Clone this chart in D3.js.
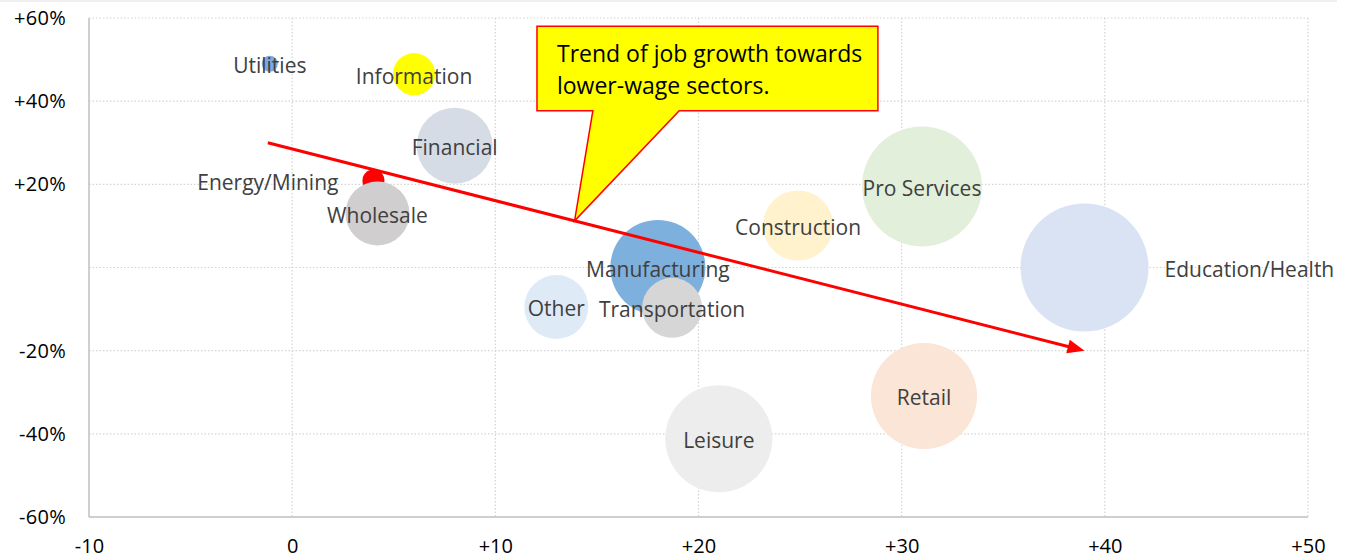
<!DOCTYPE html>
<html>
<head>
<meta charset="utf-8">
<script src="https://cdn.jsdelivr.net/npm/d3@7"></script>
<style>
  body { margin: 0; background: #fff; }
  svg { display: block; font-family: "Open Sans", "Noto Sans", sans-serif; }
</style>
</head>
<body>
<div id="bubbleChart"></div>
<script>
// sectors, in drawing order
const sectors = ["Utilities", "Information", "Financial", "Energy/Mining", "Wholesale",
  "Manufacturing", "Transportation", "Other", "Construction", "Pro Services",
  "Education/Health", "Retail", "Leisure"];
// x: horizontal axis value
const xValues = [-1.1, 6.0, 8.0, 4.0, 4.2, 18.0, 18.7, 13.0, 24.9, 31.0, 39.0, 31.1, 21.0];
// y: vertical axis value (fraction)
const yValues = [0.49, 0.465, 0.293, 0.209, 0.13, 0.0, -0.097, -0.095, 0.101, 0.195, 0.0, -0.309, -0.412];
// bubble size values
const sizes = [0.36, 2.5, 8.1, 0.68, 5.75, 12.7, 5.05, 5.75, 6.9, 20.2, 23.0, 15.8, 16.1];

const xTicks = [-10, 0, 10, 20, 30, 40, 50];
const yTicks = [-0.6, -0.4, -0.2, 0, 0.2, 0.4, 0.6];

// trend arrow endpoints [x, y]
const trendStart = [-1.2, 0.30];
const trendEnd = [39.0, -0.20];
const calloutText = ["Trend of job growth towards", "lower-wage sectors."];

class BubbleChart {
  constructor(_config) {
    this.config = {
      containerWidth: _config.containerWidth || 1350,
      containerHeight: _config.containerHeight || 560,
      margin: _config.margin || {top: 18, right: 42, bottom: 43, left: 89}
    };
    this.data = sectors.map((s, i) => ({name: s, x: xValues[i], y: yValues[i], size: sizes[i]}));
    this.initVis();
  }

  initVis() {
    let vis = this;
    vis.width = vis.config.containerWidth - vis.config.margin.left - vis.config.margin.right;
    vis.height = vis.config.containerHeight - vis.config.margin.top - vis.config.margin.bottom;

    vis.svgRoot = d3.select("#bubbleChart").append("svg")
      .attr("width", vis.config.containerWidth)
      .attr("height", vis.config.containerHeight);

    // faint strip across the top edge
    vis.svgRoot.append("rect")
      .attr("x", 0).attr("y", 0)
      .attr("width", 1337).attr("height", 2)
      .attr("fill", "#efefef");

    vis.svg = vis.svgRoot.append("g")
      .attr("transform", `translate(${vis.config.margin.left},${vis.config.margin.top})`);

    vis.xScale = d3.scaleLinear().domain([-10, 50]).range([0, vis.width]);
    vis.yScale = d3.scaleLinear().domain([-0.6, 0.6]).range([vis.height, 0]);
    vis.zScale = d3.scaleSqrt().domain([0, d3.max(sizes)]).range([0, 64]);

    vis.myColor = d3.scaleOrdinal().domain(sectors).range([
      "#7eaadb", "#ffff00", "#d6dce5", "#ff0000", "#d0cece",
      "#7eb0de", "#d6d6d6", "#deebf7", "#fff2cc", "#e2efda",
      "#dae3f3", "#fbe5d6", "#ededed"]);

    vis.updateVis();
  }

  updateVis() {
    let vis = this;
    vis.xValue = d => d.x;
    vis.yValue = d => d.y;
    vis.zValue = d => d.size;
    vis.renderVis();
  }

  renderVis() {
    let vis = this;

    // gridlines
    const grid = vis.svg.append("g").attr("class", "grid");
    grid.selectAll(".vgrid").data(xTicks.slice(1)).join("line")
      .attr("x1", d => vis.xScale(d)).attr("x2", d => vis.xScale(d))
      .attr("y1", 0).attr("y2", vis.height)
      .attr("stroke", "#d4d4d4").attr("stroke-width", 1.2)
      .attr("stroke-dasharray", "1.5,2");
    grid.selectAll(".hgrid").data(yTicks.slice(1)).join("line")
      .attr("x1", 0).attr("x2", vis.width)
      .attr("y1", d => vis.yScale(d)).attr("y2", d => vis.yScale(d))
      .attr("stroke", "#d4d4d4").attr("stroke-width", 1.2)
      .attr("stroke-dasharray", "1.5,2");

    // axes
    vis.xAxis = d3.axisBottom(vis.xScale).tickValues(xTicks)
      .tickSize(0).tickPadding(24)
      .tickFormat(d => (d > 0 ? "+" : "") + d);
    vis.yAxis = d3.axisLeft(vis.yScale).tickValues(yTicks)
      .tickSize(0).tickPadding(23)
      .tickFormat(d => d === 0 ? "" : (d > 0 ? "+" : "-") + Math.round(Math.abs(d) * 100) + "%");

    vis.xAxisG = vis.svg.append("g").attr("class", "axis x-axis")
      .attr("transform", `translate(0,${vis.height})`)
      .call(vis.xAxis);
    vis.yAxisG = vis.svg.append("g").attr("class", "axis y-axis")
      .call(vis.yAxis);
    [vis.xAxisG, vis.yAxisG].forEach(g => {
      g.select(".domain").remove();
      g.selectAll("text").attr("fill", "#000").style("font-size", "20px")
        .style("font-family", "'Open Sans', sans-serif");
    });
    vis.yAxisG.selectAll("text").style("letter-spacing", "0.3px");
    vis.xAxisG.selectAll("text").attr("dy", "0.6em");

    vis.svg.append("line")
      .attr("x1", 0).attr("x2", 0).attr("y1", 0).attr("y2", vis.height)
      .attr("stroke", "#bfbfbf").attr("stroke-width", 1.5);
    vis.svg.append("line")
      .attr("x1", 0).attr("x2", vis.width).attr("y1", vis.height).attr("y2", vis.height)
      .attr("stroke", "#bfbfbf").attr("stroke-width", 1.5);

    // bubbles
    vis.dots = vis.svg.append("g")
      .selectAll("circle")
      .data(vis.data)
      .join("circle")
        .attr("class", "bubbles")
        .attr("cx", d => vis.xScale(vis.xValue(d)))
        .attr("cy", d => vis.yScale(vis.yValue(d)))
        .attr("r", d => vis.zScale(vis.zValue(d)))
        .style("fill", d => vis.myColor(d.name));

    // trend arrow
    const sx = vis.xScale(trendStart[0]), sy = vis.yScale(trendStart[1]);
    const ex = vis.xScale(trendEnd[0]), ey = vis.yScale(trendEnd[1]);
    const ang = Math.atan2(ey - sy, ex - sx);
    const c = Math.cos(ang), s = Math.sin(ang);
    vis.svg.append("line")
      .attr("x1", sx).attr("y1", sy)
      .attr("x2", ex - 14 * c).attr("y2", ey - 14 * s)
      .attr("stroke", "#ff0000").attr("stroke-width", 3);
    vis.svg.append("path")
      .attr("d", `M${ex},${ey} L${ex - 17 * c + 7 * s},${ey - 17 * s - 7 * c} L${ex - 17 * c - 7 * s},${ey - 17 * s + 7 * c} Z`)
      .attr("fill", "#ff0000");

    // labels (Energy/Mining sits left, Education/Health right)
    const labelSide = {"Energy/Mining": "left", "Education/Health": "right"};
    vis.svg.append("g").selectAll("text")
      .data(vis.data)
      .join("text")
        .attr("x", d => {
          const cx = vis.xScale(d.x), r = vis.zScale(d.size);
          if (labelSide[d.name] === "left") return cx - r - 24;
          if (labelSide[d.name] === "right") return cx + r + 16;
          return cx;
        })
        .attr("y", d => vis.yScale(d.y))
        .attr("dy", "0.45em")
        .attr("text-anchor", d => labelSide[d.name] === "left" ? "end" : labelSide[d.name] === "right" ? "start" : "middle")
        .attr("fill", "#404040")
        .style("font-size", "21px")
        .text(d => d.name);

    // callout pointing at the trend line
    const tipX = 13.9;
    const t = (tipX - trendStart[0]) / (trendEnd[0] - trendStart[0]);
    const tipY = trendStart[1] + t * (trendEnd[1] - trendStart[1]);
    const bx0 = vis.xScale(12.05), bx1 = vis.xScale(28.83);
    const by0 = vis.yScale(0.58), by1 = vis.yScale(0.377);
    const pl = vis.xScale(14.8), pr = vis.xScale(19.05);
    const tx = vis.xScale(tipX), ty = vis.yScale(tipY);
    vis.svg.append("path")
      .attr("d", `M${bx0},${by0} L${bx1},${by0} L${bx1},${by1} L${pr},${by1} L${tx},${ty} L${pl},${by1} L${bx0},${by1} Z`)
      .attr("fill", "#ffff00")
      .attr("stroke", "#ff0000")
      .attr("stroke-width", 1.5)
      .attr("stroke-linejoin", "miter");
    vis.svg.append("text")
      .attr("x", bx0 + 20)
      .attr("y", by0 + 36)
      .attr("fill", "#000")
      .style("font-size", "23px")
      .selectAll("tspan")
      .data(calloutText)
      .join("tspan")
        .attr("x", bx0 + 20)
        .attr("dy", (d, i) => i === 0 ? 0 : 32)
        .text(d => d);
  }
}

new BubbleChart({containerWidth: 1350, containerHeight: 560});
</script>
</body>
</html>
